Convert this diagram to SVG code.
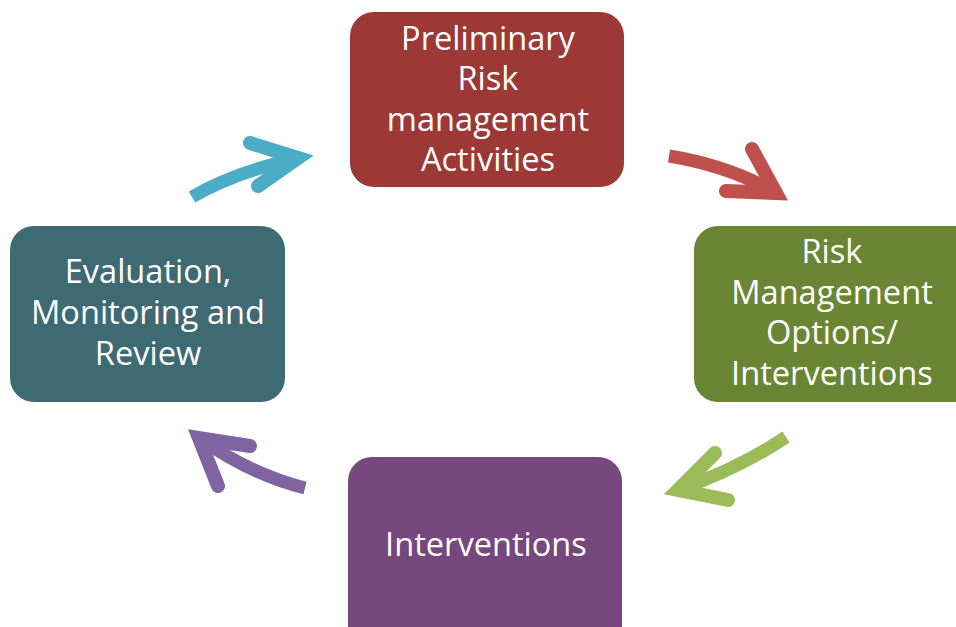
<svg xmlns="http://www.w3.org/2000/svg" width="956" height="627" viewBox="0 0 956 627">
  <style>
    .box text { font-family: "Open Sans", "Noto Sans", sans-serif; font-size: 32.6px; fill: #ffffff; text-anchor: middle; }
    .shaft { fill: none; stroke-width: 13; stroke-linecap: butt; }
    .arm { fill: none; stroke-width: 14; stroke-linecap: round; }
  </style>
  <rect width="956" height="627" fill="#ffffff"/>

  <g id="preliminary" class="box">
    <rect x="350" y="12" width="274" height="175" rx="24" fill="#9c3836"/>
    <text x="488" y="50">Preliminary</text>
    <text x="488" y="90">Risk</text>
    <text x="488" y="131">management</text>
    <text x="488" y="171">Activities</text>
  </g>

  <g id="options" class="box">
    <rect x="694" y="226" width="290" height="176" rx="24" fill="#6a8635"/>
    <text x="832" y="263">Risk</text>
    <text x="832" y="304">Management</text>
    <text x="832" y="344">Options/</text>
    <text x="832" y="385">Interventions</text>
  </g>

  <g id="interventions" class="box">
    <rect x="348" y="457" width="274" height="200" rx="24" fill="#77487d"/>
    <text x="486" y="556">Interventions</text>
  </g>

  <g id="evaluation" class="box">
    <rect x="10" y="226" width="275" height="176" rx="24" fill="#3e6a74"/>
    <text x="148" y="283">Evaluation,</text>
    <text x="148" y="324">Monitoring and</text>
    <text x="148" y="365">Review</text>
  </g>

  <g id="connectors">
    <!-- evaluation -> preliminary -->
    <g stroke="#4bacc6" fill="#4bacc6">
      <path class="shaft" d="M192 197 Q235 172 298 158"/>
      <path class="arm" d="M250 143 L298 158 L258 186"/>
      <polygon points="307,155 293,150 295,165" stroke="none"/>
    </g>
    <!-- preliminary -> options -->
    <g stroke="#c0504d" fill="#c0504d">
      <path class="shaft" d="M669 156 Q730 166 776 193"/>
      <path class="arm" d="M752 149 L776 193 L726 191"/>
      <polygon points="784,198 771,198 778,186" stroke="none"/>
    </g>
    <!-- options -> interventions -->
    <g stroke="#9bbb59" fill="#9bbb59">
      <path class="shaft" d="M786 437 Q740 468 678 490"/>
      <path class="arm" d="M715 453 L678 490 L728 500"/>
      <polygon points="670,492 680,482 683,496" stroke="none"/>
    </g>
    <!-- interventions -> evaluation -->
    <g stroke="#8064a2" fill="#8064a2">
      <path class="shaft" d="M305 488 Q250 474 199 438"/>
      <path class="arm" d="M250 446 L199 438 L218 486"/>
      <polygon points="192,433 206,437 196,448" stroke="none"/>
    </g>
  </g>
</svg>
